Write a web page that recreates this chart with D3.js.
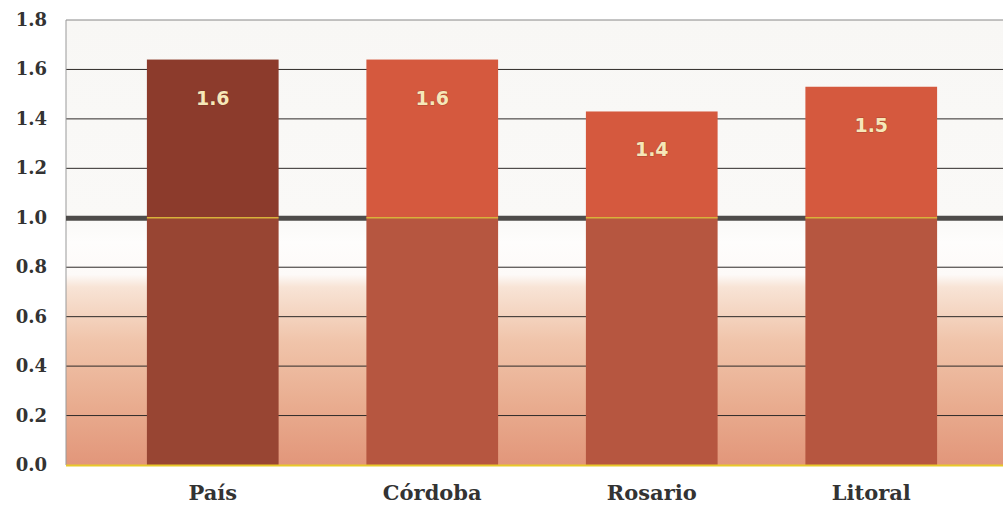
<!DOCTYPE html>
<html><head><meta charset="utf-8">
<script src="https://cdn.jsdelivr.net/npm/d3@7"></script>
<style>html,body{margin:0;padding:0;background:#fff;}svg{display:block;}</style>
</head><body>
<svg id="chart" width="1003" height="506"></svg>
<script>
const categories = ["País", "Córdoba", "Rosario", "Litoral"];
const values = [1.64, 1.64, 1.43, 1.53];
const valueLabels = ["1.6", "1.6", "1.4", "1.5"];
const yTicks = [0, 0.2, 0.4, 0.6, 0.8, 1.0, 1.2, 1.4, 1.6, 1.8];
const reference = 1.0;

(function () {
const svg = d3.select("#chart");
const pL = 66, pR = 1003, pT = 20, pB = 465;

const x = d3.scaleBand().domain(categories).range([103, 981]).paddingInner(0.4).paddingOuter(0.2);
const y = d3.scaleLinear().domain([0, 1.8]).range([pB, pT]);

const defs = svg.append("defs");
const grad = defs.append("linearGradient").attr("id", "bg")
  .attr("gradientUnits", "userSpaceOnUse").attr("x1", 0).attr("x2", 0).attr("y1", pT).attr("y2", pB);
const stop = (v, c) => grad.append("stop").attr("offset", (y(v) - pT) / (pB - pT)).attr("stop-color", c);
stop(1.8, "#f8f7f5");
stop(1.0, "#faf9f7");
stop(0.9, "#fefdfc");
stop(0.77, "#fdfaf8");
stop(0.72, "#f8e4d6");
stop(0.5, "#f0c4aa");
stop(0.25, "#e9ad90");
stop(0.0, "#e2967a");

svg.append("rect").attr("x", pL).attr("y", pT).attr("width", pR - pL).attr("height", pB - pT).attr("fill", "url(#bg)");

svg.append("g").selectAll("line").data(yTicks.filter(t => t !== reference && t !== 0)).join("line")
  .attr("x1", pL).attr("x2", pR).attr("y1", d => y(d)).attr("y2", d => y(d))
  .attr("stroke", d => d === 1.8 ? "#888" : "#2e2a28").attr("stroke-width", 1);

svg.append("line").attr("x1", pL).attr("x2", pL).attr("y1", pT).attr("y2", pB).attr("stroke", "#999").attr("stroke-width", 1);

svg.append("line").attr("x1", pL).attr("x2", pR).attr("y1", y(reference) + 0.5).attr("y2", y(reference) + 0.5)
  .attr("stroke", "#4e4c4a").attr("stroke-width", 5);

const colorsUpper = ["#8c3b2c", "#d5593e", "#d5593e", "#d5593e"];
const colorsLower = ["#984533", "#b65640", "#b65640", "#b65640"];
const bars = svg.append("g");
categories.forEach((c, i) => {
  const v = values[i];
  const lo = Math.min(v, reference);
  bars.append("rect").attr("x", x(c)).attr("width", x.bandwidth())
    .attr("y", y(lo)).attr("height", y(0) - y(lo)).attr("fill", colorsLower[i]);
  if (v > reference) {
    bars.append("rect").attr("x", x(c)).attr("width", x.bandwidth())
      .attr("y", y(v)).attr("height", y(reference) - y(v)).attr("fill", colorsUpper[i]);
    bars.append("line").attr("x1", x(c)).attr("x2", x(c) + x.bandwidth())
      .attr("y1", y(reference)).attr("y2", y(reference)).attr("stroke", "#d8b23a").attr("stroke-width", 1.5);
  }
});

svg.append("line").attr("x1", pL).attr("x2", pR).attr("y1", y(0) + 0.5).attr("y2", y(0) + 0.5)
  .attr("stroke", "#e8c82a").attr("stroke-width", 2);

svg.append("g").selectAll("text").data(categories).join("text")
  .attr("x", d => x(d) + x.bandwidth() / 2)
  .attr("y", (d, i) => y(values[i]) + 45)
  .attr("text-anchor", "middle")
  .attr("font-family", "'DejaVu Sans', sans-serif").attr("font-weight", "bold").attr("font-size", 19)
  .attr("fill", "#f6e7b8")
  .style("paint-order", "stroke").attr("stroke", "rgba(90,30,20,0.35)").attr("stroke-width", 1)
  .text((d, i) => valueLabels[i]);

svg.append("g").selectAll("text").data(yTicks).join("text")
  .attr("x", 47).attr("y", d => y(d) + 6)
  .attr("text-anchor", "end")
  .attr("font-family", "'DejaVu Serif', serif").attr("font-weight", "bold").attr("font-size", 18)
  .attr("fill", "#333")
  .text(d => d.toFixed(1));

svg.append("g").selectAll("text").data(categories).join("text")
  .attr("x", d => x(d) + x.bandwidth() / 2).attr("y", 500)
  .attr("text-anchor", "middle")
  .attr("font-family", "'DejaVu Serif', serif").attr("font-weight", "bold").attr("font-size", 21)
  .attr("fill", "#333")
  .text(d => d);
})();
</script>
</body></html>
